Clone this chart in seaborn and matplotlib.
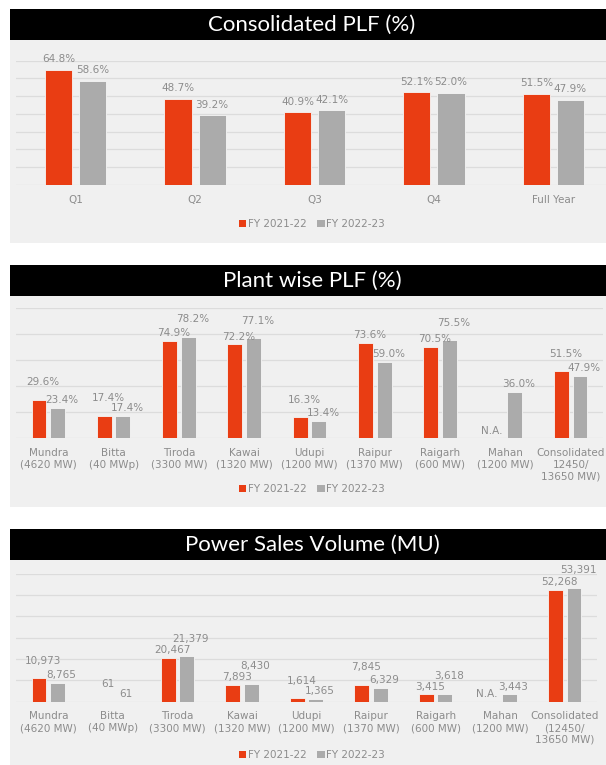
import matplotlib
matplotlib.use("Agg")
import matplotlib.pyplot as plt
from matplotlib.patches import Rectangle
import seaborn as sns
import numpy as np
import pandas as pd

# region Data
years = ["FY 2021-22", "FY 2022-23"]

quarters = ["Q1", "Q2", "Q3", "Q4", "Full Year"]
plf_2122 = [64.8, 48.7, 40.9, 52.1, 51.5]
plf_2223 = [58.6, 39.2, 42.1, 52.0, 47.9]

plants_plf = ["Mundra\n(4620 MW)", "Bitta\n(40 MWp)", "Tiroda\n(3300 MW)", "Kawai\n(1320 MW)",
              "Udupi\n(1200 MW)", "Raipur\n(1370 MW)", "Raigarh\n(600 MW)", "Mahan\n(1200 MW)",
              "Consolidated\n12450/\n13650 MW)"]
plant_plf_2122 = [29.6, 17.4, 74.9, 72.2, 16.3, 73.6, 70.5, np.nan, 51.5]
plant_plf_2223 = [23.4, 17.4, 78.2, 77.1, 13.4, 59.0, 75.5, 36.0, 47.9]

plants_mu = ["Mundra\n(4620 MW)", "Bitta\n(40 MWp)", "Tiroda\n(3300 MW)", "Kawai\n(1320 MW)",
             "Udupi\n(1200 MW)", "Raipur\n(1370 MW)", "Raigarh\n(600 MW)", "Mahan\n(1200 MW)",
             "Consolidated\n(12450/\n13650 MW)"]
sales_2122 = [10973, 61, 20467, 7893, 1614, 7845, 3415, np.nan, 52268]
sales_2223 = [8765, 61, 21379, 8430, 1365, 6329, 3618, 3443, 53391]
# endregion

RED = "#E93D13"
GREY = "#ABABAB"
PANEL = "#F0F0F0"
GRID = "#DCDCDC"
TXT = "#8C8C8C"
TITLE_FONT = ["Lato", "DejaVu Sans"]
SMALL_FONT = ["DejaVu Sans"]

W, H = 606, 765
plt.rcParams["font.family"] = SMALL_FONT

fig = plt.figure(figsize=(W / 100, H / 100), dpi=100)
fig.patch.set_facecolor("white")


def px_rect(x0, y0, x1, y1, color):
    fig.patches.append(Rectangle((x0 / W, 1 - y1 / H), (x1 - x0) / W, (y1 - y0) / H,
                                 transform=fig.transFigure, facecolor=color,
                                 edgecolor="none", zorder=-5))


def draw_panel(title, bar_top, bar_bot, panel_bot, ax_box, legend_y,
               cats, v1, v2, ymax, ystep, fmt, pad, dx, stagger):
    px_rect(10, bar_bot, 640, panel_bot, PANEL)
    px_rect(10, bar_top, 640, bar_bot, "black")
    fig.text(312 / W, 1 - (bar_top + bar_bot) / 2 / H, title, color="white",
             fontsize=16, ha="center", va="center", family=TITLE_FONT)

    l, t, r, b = ax_box
    ax = fig.add_axes([l / W, 1 - b / H, (r - l) / W, (b - t) / H])
    ax.set_facecolor("none")

    df = pd.DataFrame({
        "cat": cats * 2,
        "year": [years[0]] * len(cats) + [years[1]] * len(cats),
        "val": list(np.nan_to_num(v1)) + list(np.nan_to_num(v2)),
    })
    sns.barplot(data=df, x="cat", y="val", hue="year", palette=[RED, GREY],
                saturation=1, width=0.57, gap=0.2, errorbar=None, legend=False,
                ax=ax, edgecolor="#F6F6F6", linewidth=0.6, zorder=3)

    # px per data unit, used to stagger labels of bars with similar height
    px_per = (b - t) / ymax
    for k, (container, vals) in enumerate(zip(ax.containers, [v1, v2])):
        other = [v2, v1][k]
        labels = []
        for patch, v in zip(container, vals):
            if np.isnan(v):
                labels.append("N.A.")
                patch.set_edgecolor("none")
            else:
                labels.append(fmt(v))
        anns = ax.bar_label(container, labels=labels, padding=pad, fontsize=7.5,
                            color=TXT)
        for ann, v, o in zip(anns, vals, other):
            extra = 0
            shift = dx
            if np.isnan(v):
                shift = -dx
            elif stagger and not np.isnan(o):
                close = abs(v - o) * px_per < 12
                taller = v > o or (v == o and k == 0)
                if close and taller:
                    extra = 7
            ann.xyann = (shift, pad + extra)

    ax.set_ylim(0, ymax)
    ax.set_yticks(np.arange(0, ymax + ystep, ystep))
    ax.yaxis.grid(True, color=GRID, linewidth=0.9, zorder=0)
    ax.set_axisbelow(True)
    ax.tick_params(axis="y", left=False, labelleft=False)
    ax.tick_params(axis="x", length=0, pad=7, labelsize=7.5, labelcolor=TXT)
    for lab in ax.get_xticklabels():
        lab.set_linespacing(1.2)
    ax.set_xlabel("")
    ax.set_ylabel("")
    for s in ax.spines.values():
        s.set_visible(False)

    handles = [Rectangle((0, 0), 1, 1, facecolor=RED), Rectangle((0, 0), 1, 1, facecolor=GREY)]
    ax.legend(handles, years, loc="center", bbox_to_anchor=(312 / W, 1 - legend_y / H),
              bbox_transform=fig.transFigure, ncol=2, frameon=False, fontsize=7.5,
              labelcolor=TXT, handlelength=0.7, handleheight=0.7,
              handletextpad=0.15, columnspacing=1.0)
    return ax


pct = lambda v: f"{v:.1f}%"
num = lambda v: f"{v:,.0f}"

draw_panel("Consolidated PLF (%)", 9, 40, 243, (16, 60.7, 613, 185), 224,
           quarters, plf_2122, plf_2223, 70, 10, pct, pad=4, dx=0, stagger=False)
draw_panel("Plant wise PLF (%)", 265, 296, 507, (15.6, 308.3, 603.4, 438.3), 489,
           plants_plf, plant_plf_2122, plant_plf_2223, 100, 20, pct, pad=2, dx=3, stagger=True)
draw_panel("Power Sales Volume (MU)", 529, 560, 770, (16, 573.5, 597, 701.7), 755,
           plants_mu, sales_2122, sales_2223, 60000, 10000, num, pad=2, dx=3, stagger=True)

fig.savefig("out.png", dpi=100)
plt.close(fig)
